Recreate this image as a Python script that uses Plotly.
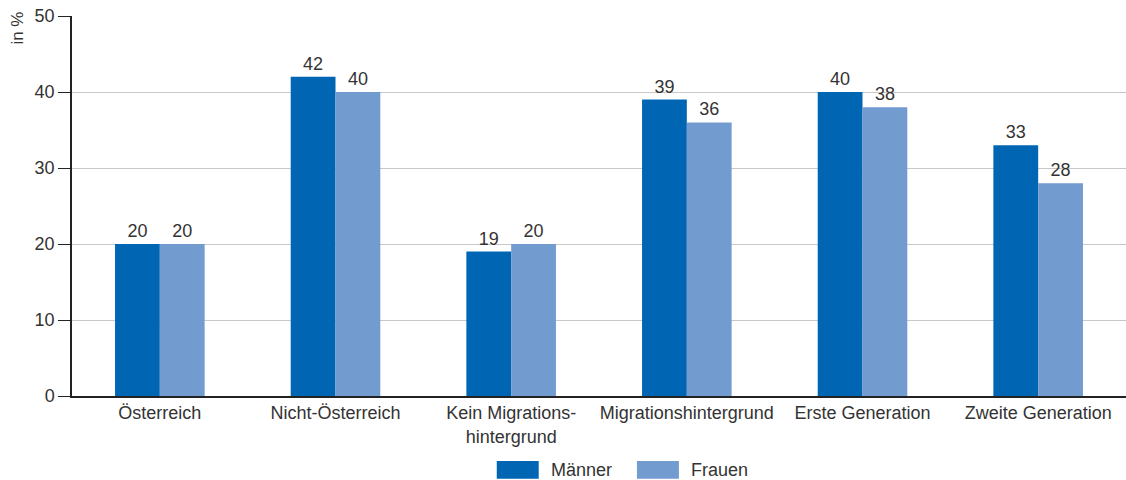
import plotly.graph_objects as go

categories = ["Österreich", "Nicht-Österreich", "Kein Migrations-<br>hintergrund",
              "Migrationshintergrund", "Erste Generation", "Zweite Generation"]
maenner = [20, 42, 19, 39, 40, 33]
frauen = [20, 40, 20, 36, 38, 28]
y_ticks = [0, 10, 20, 30, 40, 50]
series_names = ["Männer", "Frauen"]
colors = ["#0066b3", "#729bcf"]

font = dict(family="Liberation Sans, Arial, sans-serif", size=18, color="#333333")

fig = go.Figure()
for name, vals, col in zip(series_names, [maenner, frauen], colors):
    fig.add_bar(x=categories, y=vals, name=name, marker_color=col,
                marker_line_width=0,
                text=vals, textposition="outside", cliponaxis=False,
                textfont=font)

# custom legend (large swatches like the reference)
legend_x = [0.403, 0.536]
shapes = []
annotations = [dict(text="in %", x=-0.052, y=1.016, xref="paper", yref="paper",
                    xanchor="center", yanchor="top", textangle=-90,
                    showarrow=False, font=dict(font, size=17))]
for lx, name, col in zip(legend_x, series_names, colors):
    shapes.append(dict(type="rect", xref="paper", yref="paper",
                       x0=lx, x1=lx + 0.0398, y0=-0.171, y1=-0.218,
                       fillcolor=col, line_width=0))
    annotations.append(dict(text=name, x=lx + 0.0493, y=-0.1947, xref="paper",
                            yref="paper", xanchor="left", yanchor="middle",
                            showarrow=False, font=font))

fig.update_layout(
    width=1126, height=480, autosize=False,
    margin=dict(l=72, r=0, t=16, b=84),
    plot_bgcolor="white", paper_bgcolor="white",
    font=font,
    barmode="group", bargap=0.49, bargroupgap=0,
    showlegend=False,
    xaxis=dict(showline=True, linecolor="#222222", linewidth=1.5, ticks="",
               tickfont=font, showgrid=False, automargin=False),
    yaxis=dict(range=[0, 50], tickvals=y_ticks, showline=True, linecolor="#222222",
               linewidth=1.5, ticks="outside", ticklen=12, tickcolor="#222222",
               tickfont=font, showgrid=True, gridcolor="#c8c8c8", gridwidth=1,
               zeroline=False, automargin=False),
    shapes=shapes,
    annotations=annotations,
)

fig.write_html("out.html")
